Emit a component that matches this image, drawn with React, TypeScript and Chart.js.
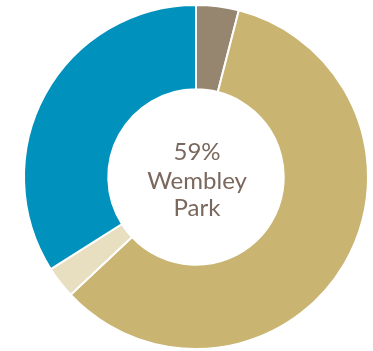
import React, { useEffect, useRef } from "react";
import { Chart, registerables } from "chart.js";

Chart.register(...registerables);

const categories = ["Other A", "Wembley Park", "Other B", "Other C"];
const shares = [4, 59, 3, 34];
const colors = ["#968670", "#c9b472", "#e8dfc1", "#0092bd"];
const centerLines = ["59%", "Wembley", "Park"];

const centerText = {
  id: "centerText",
  afterDraw(chart: any) {
    const { ctx, chartArea } = chart;
    const cx = (chartArea.left + chartArea.right) / 2;
    const cy = (chartArea.top + chartArea.bottom) / 2;
    ctx.save();
    ctx.fillStyle = "#7a675d";
    ctx.font = "24px Lato, 'Open Sans', sans-serif";
    ctx.textAlign = "center";
    ctx.textBaseline = "alphabetic";
    const offsets = [-17, 12, 39];
    centerLines.forEach((t, i) => ctx.fillText(t, cx + 1, cy + offsets[i]));
    ctx.restore();
  },
};

export default function App() {
  const ref = useRef<HTMLCanvasElement>(null);
  useEffect(() => {
    const chart = new Chart(ref.current!, {
      type: "doughnut",
      data: {
        labels: categories,
        datasets: [
          {
            data: shares,
            backgroundColor: colors,
            borderColor: "#ffffff",
            borderWidth: 2,
          },
        ],
      },
      options: {
        responsive: false,
        animation: false,
        cutout: "51%",
        layout: { padding: { left: 19, right: 0, top: 4, bottom: 1 } },
        plugins: { legend: { display: false }, tooltip: { enabled: false } },
      },
      plugins: [centerText],
    });
    return () => chart.destroy();
  }, []);
  return (
    <canvas
      ref={ref}
      width={373}
      height={351}
      style={{ position: "absolute", left: 0, top: 0, width: 373, height: 351 }}
    />
  );
}
